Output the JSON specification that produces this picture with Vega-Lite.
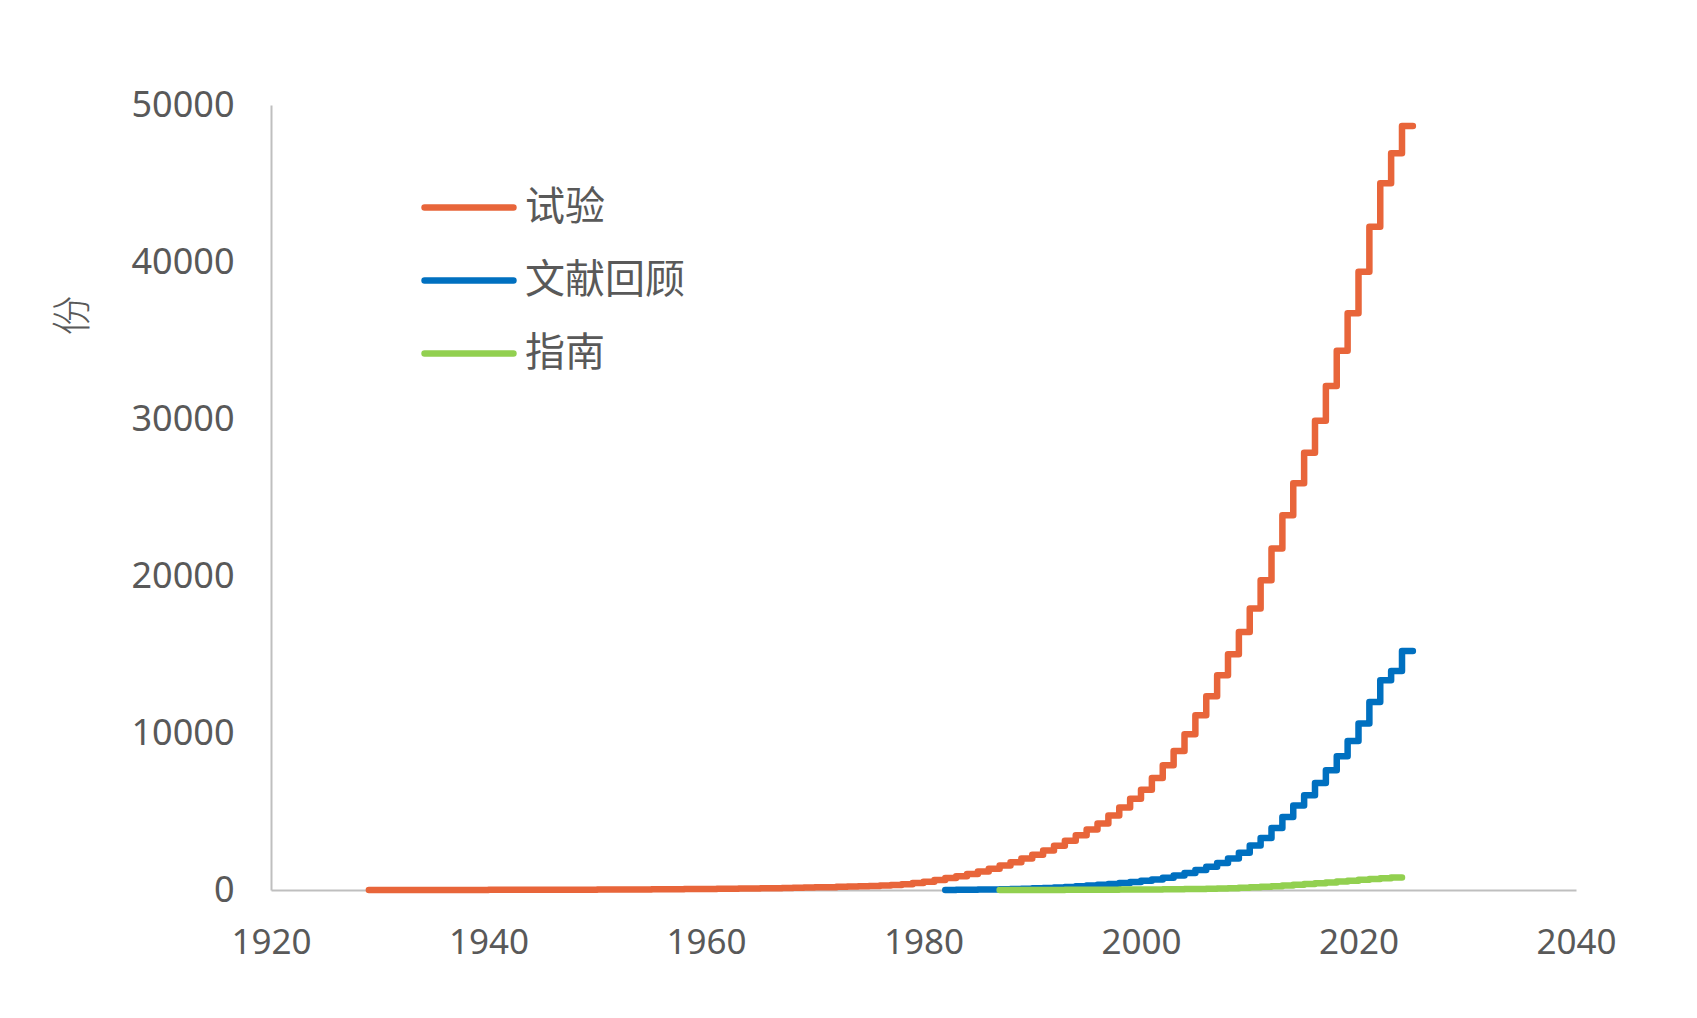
{
  "$schema": "https://vega.github.io/schema/vega-lite/v6.json",
  "autosize": {"type": "none"},
  "padding": {"left": 271, "top": 105, "right": 121, "bottom": 128},
  "width": 1305,
  "height": 785,
  "background": "white",
  "config": {"view": {"stroke": null}},
  "data": {"values": [
    {"s":"试验","year":1929,"n":1},{"s":"试验","year":1930,"n":1},{"s":"试验","year":1931,"n":2},{"s":"试验","year":1932,"n":2},{"s":"试验","year":1933,"n":3},{"s":"试验","year":1934,"n":3},{"s":"试验","year":1935,"n":4},{"s":"试验","year":1936,"n":4},{"s":"试验","year":1937,"n":5},{"s":"试验","year":1938,"n":5},{"s":"试验","year":1939,"n":6},{"s":"试验","year":1940,"n":7},{"s":"试验","year":1941,"n":8},{"s":"试验","year":1942,"n":9},{"s":"试验","year":1943,"n":10},{"s":"试验","year":1944,"n":11},{"s":"试验","year":1945,"n":12},{"s":"试验","year":1946,"n":14},{"s":"试验","year":1947,"n":16},{"s":"试验","year":1948,"n":18},{"s":"试验","year":1949,"n":20},{"s":"试验","year":1950,"n":22},{"s":"试验","year":1951,"n":25},{"s":"试验","year":1952,"n":28},{"s":"试验","year":1953,"n":31},{"s":"试验","year":1954,"n":34},{"s":"试验","year":1955,"n":38},{"s":"试验","year":1956,"n":42},{"s":"试验","year":1957,"n":46},{"s":"试验","year":1958,"n":51},{"s":"试验","year":1959,"n":56},{"s":"试验","year":1960,"n":62},{"s":"试验","year":1961,"n":68},{"s":"试验","year":1962,"n":75},{"s":"试验","year":1963,"n":82},{"s":"试验","year":1964,"n":90},{"s":"试验","year":1965,"n":99},{"s":"试验","year":1966,"n":108},{"s":"试验","year":1967,"n":118},{"s":"试验","year":1968,"n":129},{"s":"试验","year":1969,"n":141},{"s":"试验","year":1970,"n":154},{"s":"试验","year":1971,"n":168},{"s":"试验","year":1972,"n":183},{"s":"试验","year":1973,"n":200},{"s":"试验","year":1974,"n":218},{"s":"试验","year":1975,"n":238},{"s":"试验","year":1976,"n":262},{"s":"试验","year":1977,"n":290},{"s":"试验","year":1978,"n":325},{"s":"试验","year":1979,"n":370},{"s":"试验","year":1980,"n":440},{"s":"试验","year":1981,"n":530},{"s":"试验","year":1982,"n":640},{"s":"试验","year":1983,"n":760},{"s":"试验","year":1984,"n":880},{"s":"试验","year":1985,"n":1020},{"s":"试验","year":1986,"n":1180},{"s":"试验","year":1987,"n":1360},{"s":"试验","year":1988,"n":1560},{"s":"试验","year":1989,"n":1770},{"s":"试验","year":1990,"n":2000},{"s":"试验","year":1991,"n":2250},{"s":"试验","year":1992,"n":2520},{"s":"试验","year":1993,"n":2820},{"s":"试验","year":1994,"n":3140},{"s":"试验","year":1995,"n":3480},{"s":"试验","year":1996,"n":3850},{"s":"试验","year":1997,"n":4240},{"s":"试验","year":1998,"n":4750},{"s":"试验","year":1999,"n":5250},{"s":"试验","year":2000,"n":5820},{"s":"试验","year":2001,"n":6390},{"s":"试验","year":2002,"n":7130},{"s":"试验","year":2003,"n":7940},{"s":"试验","year":2004,"n":8850},{"s":"试验","year":2005,"n":9920},{"s":"试验","year":2006,"n":11130},{"s":"试验","year":2007,"n":12340},{"s":"试验","year":2008,"n":13680},{"s":"试验","year":2009,"n":15020},{"s":"试验","year":2010,"n":16440},{"s":"试验","year":2011,"n":17930},{"s":"试验","year":2012,"n":19730},{"s":"试验","year":2013,"n":21750},{"s":"试验","year":2014,"n":23870},{"s":"试验","year":2015,"n":25900},{"s":"试验","year":2016,"n":27850},{"s":"试验","year":2017,"n":29890},{"s":"试验","year":2018,"n":32100},{"s":"试验","year":2019,"n":34350},{"s":"试验","year":2020,"n":36730},{"s":"试验","year":2021,"n":39380},{"s":"试验","year":2022,"n":42250},{"s":"试验","year":2023,"n":45020},{"s":"试验","year":2024,"n":46930},{"s":"试验","year":2025,"n":48670},
    {"s":"文献回顾","year":1982,"n":0},{"s":"文献回顾","year":1983,"n":5},{"s":"文献回顾","year":1984,"n":10},{"s":"文献回顾","year":1985,"n":15},{"s":"文献回顾","year":1986,"n":25},{"s":"文献回顾","year":1987,"n":35},{"s":"文献回顾","year":1988,"n":50},{"s":"文献回顾","year":1989,"n":65},{"s":"文献回顾","year":1990,"n":85},{"s":"文献回顾","year":1991,"n":105},{"s":"文献回顾","year":1992,"n":130},{"s":"文献回顾","year":1993,"n":160},{"s":"文献回顾","year":1994,"n":195},{"s":"文献回顾","year":1995,"n":235},{"s":"文献回顾","year":1996,"n":280},{"s":"文献回顾","year":1997,"n":330},{"s":"文献回顾","year":1998,"n":385},{"s":"文献回顾","year":1999,"n":445},{"s":"文献回顾","year":2000,"n":510},{"s":"文献回顾","year":2001,"n":585},{"s":"文献回顾","year":2002,"n":670},{"s":"文献回顾","year":2003,"n":780},{"s":"文献回顾","year":2004,"n":920},{"s":"文献回顾","year":2005,"n":1080},{"s":"文献回顾","year":2006,"n":1270},{"s":"文献回顾","year":2007,"n":1480},{"s":"文献回顾","year":2008,"n":1720},{"s":"文献回顾","year":2009,"n":2000},{"s":"文献回顾","year":2010,"n":2380},{"s":"文献回顾","year":2011,"n":2840},{"s":"文献回顾","year":2012,"n":3310},{"s":"文献回顾","year":2013,"n":3950},{"s":"文献回顾","year":2014,"n":4650},{"s":"文献回顾","year":2015,"n":5390},{"s":"文献回顾","year":2016,"n":6030},{"s":"文献回顾","year":2017,"n":6810},{"s":"文献回顾","year":2018,"n":7620},{"s":"文献回顾","year":2019,"n":8520},{"s":"文献回顾","year":2020,"n":9490},{"s":"文献回顾","year":2021,"n":10600},{"s":"文献回顾","year":2022,"n":11980},{"s":"文献回顾","year":2023,"n":13360},{"s":"文献回顾","year":2024,"n":13950},{"s":"文献回顾","year":2025,"n":15230},
    {"s":"指南","year":1987,"n":0},{"s":"指南","year":1988,"n":1},{"s":"指南","year":1989,"n":2},{"s":"指南","year":1990,"n":3},{"s":"指南","year":1991,"n":4},{"s":"指南","year":1992,"n":5},{"s":"指南","year":1993,"n":7},{"s":"指南","year":1994,"n":9},{"s":"指南","year":1995,"n":11},{"s":"指南","year":1996,"n":14},{"s":"指南","year":1997,"n":17},{"s":"指南","year":1998,"n":20},{"s":"指南","year":1999,"n":24},{"s":"指南","year":2000,"n":28},{"s":"指南","year":2001,"n":33},{"s":"指南","year":2002,"n":38},{"s":"指南","year":2003,"n":44},{"s":"指南","year":2004,"n":51},{"s":"指南","year":2005,"n":60},{"s":"指南","year":2006,"n":70},{"s":"指南","year":2007,"n":82},{"s":"指南","year":2008,"n":96},{"s":"指南","year":2009,"n":115},{"s":"指南","year":2010,"n":140},{"s":"指南","year":2011,"n":170},{"s":"指南","year":2012,"n":205},{"s":"指南","year":2013,"n":245},{"s":"指南","year":2014,"n":290},{"s":"指南","year":2015,"n":335},{"s":"指南","year":2016,"n":385},{"s":"指南","year":2017,"n":435},{"s":"指南","year":2018,"n":485},{"s":"指南","year":2019,"n":540},{"s":"指南","year":2020,"n":595},{"s":"指南","year":2021,"n":650},{"s":"指南","year":2022,"n":705},{"s":"指南","year":2023,"n":755},{"s":"指南","year":2024,"n":800}
  ]},
  "mark": {"type": "line", "interpolate": "step-before", "strokeWidth": 6.5, "strokeCap": "round", "strokeJoin": "round"},
  "encoding": {
    "x": {
      "field": "year", "type": "quantitative",
      "scale": {"domain": [1920, 2040], "nice": false, "zero": false},
      "axis": {
        "values": [1920, 1940, 1960, 1980, 2000, 2020, 2040],
        "format": "d", "title": null, "grid": false, "ticks": false,
        "domainColor": "#BFBFBF", "domainWidth": 2,
        "labelFont": "Noto Sans", "labelFontSize": 35, "labelColor": "#595959",
        "labelPadding": 35, "labelFlush": false, "labelOverlap": false
      }
    },
    "y": {
      "field": "n", "type": "quantitative",
      "scale": {"domain": [0, 50000], "nice": false},
      "axis": {
        "values": [0, 10000, 20000, 30000, 40000, 50000],
        "format": "d", "title": "份", "grid": false, "ticks": false,
        "domainColor": "#BFBFBF", "domainWidth": 2,
        "labelFont": "Noto Sans", "labelFontSize": 36, "labelColor": "#595959",
        "labelPadding": 37, "labelOverlap": false,
        "titleFont": "Noto Sans CJK SC", "titleFontSize": 40, "titleFontWeight": 300,
        "titleColor": "#595959", "titleX": -198, "titleY": 210,
        "titleAlign": "center", "titleBaseline": "middle", "titleAngle": -90
      }
    },
    "color": {
      "field": "s", "type": "nominal",
      "scale": {"domain": ["试验", "文献回顾", "指南"], "range": ["#E8653A", "#0070C0", "#92D050"]},
      "legend": {
        "orient": "none", "legendX": 150, "legendY": 66, "title": null, "padding": 0,
        "direction": "vertical",
        "symbolType": "stroke", "symbolSize": 7900, "symbolStrokeWidth": 6.5,
        "clipHeight": 73, "rowPadding": 0, "labelOffset": 8,
        "labelFont": "Noto Sans CJK SC", "labelFontSize": 40, "labelColor": "#595959",
        "encode": {"symbols": {"update": {"strokeCap": {"value": "round"}}}}
      }
    }
  }
}
